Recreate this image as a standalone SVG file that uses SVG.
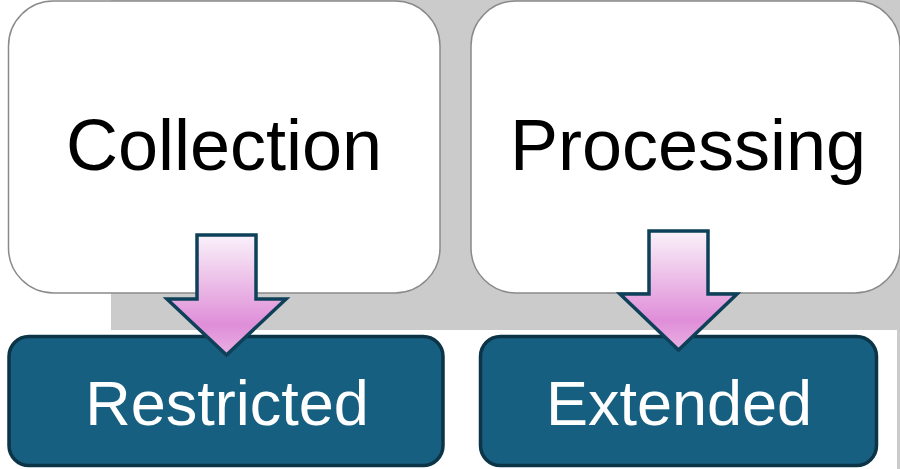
<svg xmlns="http://www.w3.org/2000/svg" width="900" height="469" viewBox="0 0 900 469">
<defs>
<linearGradient id="pink" x1="0" y1="0" x2="0" y2="1">
<stop offset="0" stop-color="#faf2fa"/>
<stop offset="0.75" stop-color="#df8ed8"/>
<stop offset="1" stop-color="#eab0e4"/>
</linearGradient>
<style>
.top{fill:#ffffff;stroke:#8a8a8a;stroke-width:1.5}
.bot{fill:#175f80;stroke:#0c3447;stroke-width:3.5}
.arrow{fill:url(#pink);stroke:#0e4159;stroke-width:3.5;stroke-linejoin:miter}
.t1{font-family:"Liberation Sans",Arial,sans-serif;font-size:72px;fill:#000000;text-anchor:middle}
.t2{font-family:"Liberation Sans",Arial,sans-serif;font-size:63px;fill:#ffffff;text-anchor:middle}
</style>
</defs>
<rect x="0" y="0" width="900" height="469" fill="#ffffff"/>
<rect x="111" y="0" width="789" height="330" fill="#cbcbcb"/>
<rect x="897" y="329" width="3" height="140" fill="#cbcbcb"/>
<g id="collection">
<rect class="top" x="8.5" y="1" width="431.5" height="292" rx="45" ry="45"/>
<text class="t1" x="224" y="170">Collection</text>
</g>
<g id="processing">
<rect class="top" x="471" y="1" width="429" height="292" rx="45" ry="45"/>
<text class="t1" x="688" y="170">Processing</text>
</g>
<g id="restricted">
<rect class="bot" x="9" y="336.5" width="434" height="129" rx="20" ry="20"/>
<text class="t2" x="227" y="425">Restricted</text>
</g>
<g id="extended">
<rect class="bot" x="480.5" y="336.5" width="396" height="129" rx="20" ry="20"/>
<text class="t2" x="679" y="425">Extended</text>
</g>
<g id="connectors">
<path class="arrow" d="M197,235 L256,235 L256,299 L286,299 L226.5,355 L167,299 L197,299 Z"/>
<path class="arrow" d="M649,231 L708,231 L708,294 L737,294 L678.5,350 L620,294 L649,294 Z"/>
</g>
</svg>
